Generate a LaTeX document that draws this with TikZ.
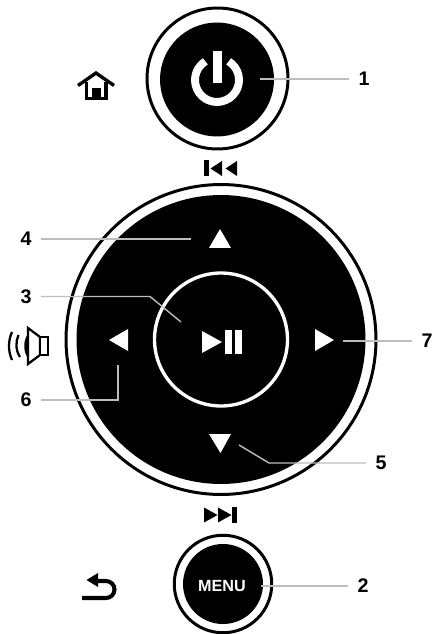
\documentclass[tikz,border=0pt]{standalone}
\usepackage{fontspec}
\setmainfont{Liberation Sans}
\definecolor{leadgrey}{HTML}{BDBDBD}
\tikzset{
  ringbtn/.style={draw=black, line width=1.7pt, fill=white, circle, inner sep=0pt},
  blackbtn/.style={fill=black, circle, inner sep=0pt},
  numlabel/.style={inner sep=5.2pt, font=\fontsize{11.2}{13}\selectfont\bfseries},
  leader/.style={draw=leadgrey, line width=0.8pt},
  glyph/.style={draw=black, line width=1.3pt, fill=white, line join=miter}
}
\begin{document}
\begin{tikzpicture}[x=0.02cm, y=-0.02cm]
\useasboundingbox (0,0) rectangle (434,634);

\node[ringbtn, minimum size=2.82cm] (powerring) at (217.5,78.5) {};
\node[blackbtn, minimum size=2.28cm] (power) at (217,79.5) {};
\node[ringbtn, minimum size=6.2cm] (wheelring) at (221,339.5) {};
\node[blackbtn, minimum size=5.78cm] (wheel) at (221,339.5) {};
\node[circle, draw=white, line width=1.9pt, inner sep=0pt, minimum size=2.66cm] (play) at (221,339.5) {};
\node[ringbtn, minimum size=1.95cm] (menuring) at (223,584) {};
\node[blackbtn, minimum size=1.6cm] (menu) at (223,584) {};
\node[text=white, inner sep=0pt, font=\fontsize{9.2}{11}\selectfont\bfseries] (menutext) at (222,586) {MENU};

% power sign
\draw[white, line width=4.5pt] (217,80) ++(-58:22) arc[start angle=-58, end angle=238, radius=22];
\fill[white] (213.3,51) rectangle (221.7,83);

% wheel arrows
\fill[white] (209,248) -- (231,248) -- (220,229) -- cycle;
\fill[white] (209,434) -- (231,434) -- (220.5,453) -- cycle;
\fill[white] (128,329) -- (128,351) -- (109,340) -- cycle;
\fill[white] (315,329) -- (315,351) -- (334,340) -- cycle;
\fill[white] (202,331) -- (202,353) -- (222,342) -- cycle;
\fill[white] (225,330) rectangle (232,354);
\fill[white] (235,330) rectangle (242,354);

% prev and next
\fill (204,160) rectangle (208.5,176);
\fill (222,161) -- (222,176) -- (210.5,168.5) -- cycle;
\fill (237,161) -- (237,176) -- (225.5,168.5) -- cycle;
\fill (204,507.5) -- (204,522.5) -- (217.5,515) -- cycle;
\fill (218,507.5) -- (218,522.5) -- (231.5,515) -- cycle;
\fill (232,507) rectangle (237,523);

% home
\draw[line width=1.9pt, line cap=butt] (78,85.5) -- (96,73) -- (114,85.5);
\draw[line width=1.9pt] (86.5,82) -- (86.5,98.5) -- (106,98.5) -- (106,82);
\fill (92,88) rectangle (100.5,99);

% speaker
\draw[glyph] (28,328) -- (28,364) -- (40,355) -- (40,337) -- cycle;
\draw[glyph] (40,337) rectangle (48,355);
\fill (28,334) .. controls (23,340) and (23,352) .. (28,358) -- cycle;
\draw[line width=1.3pt] (12,332) .. controls (8,341) and (8,351) .. (12,360);
\draw[line width=1.3pt] (18.5,335) .. controls (15.5,342) and (15.5,350) .. (20,357);

% back
\draw[line width=2.3pt] (82,598) -- (106,598) arc[start angle=90, end angle=-90, radius=8.5] -- (96,581);
\fill (86.5,580) -- (98,573) -- (98,587) -- cycle;

\node[numlabel] (n1) at (364,79) {1};
\node[numlabel] (n2) at (363,586) {2};
\node[numlabel] (n3) at (26,296.5) {3};
\node[numlabel] (n4) at (26,239) {4};
\node[numlabel] (n5) at (381,463) {5};
\node[numlabel] (n6) at (26,400) {6};
\node[numlabel] (n7) at (427,341) {7};

\coordinate (t1) at (260,79);
\coordinate (t2) at (261,586);
\coordinate (k3) at (150,296.5);
\coordinate (t3) at (181,322);
\coordinate (t4) at (191,239);
\coordinate (k5) at (269,463);
\coordinate (t5) at (239,445);
\coordinate (k6) at (118,400);
\coordinate (t6) at (118,365);
\coordinate (t7) at (343,341);

\draw[leader] (n1.west) -- (t1);
\draw[leader] (n2.west) -- (t2);
\draw[leader] (n3.east) -- (k3) -- (t3);
\draw[leader] (n4.east) -- (t4);
\draw[leader] (n5.west) -- (k5) -- (t5);
\draw[leader] (n6.east) -- (k6) -- (t6);
\draw[leader] (n7.west) -- (t7);
\end{tikzpicture}
\end{document}
